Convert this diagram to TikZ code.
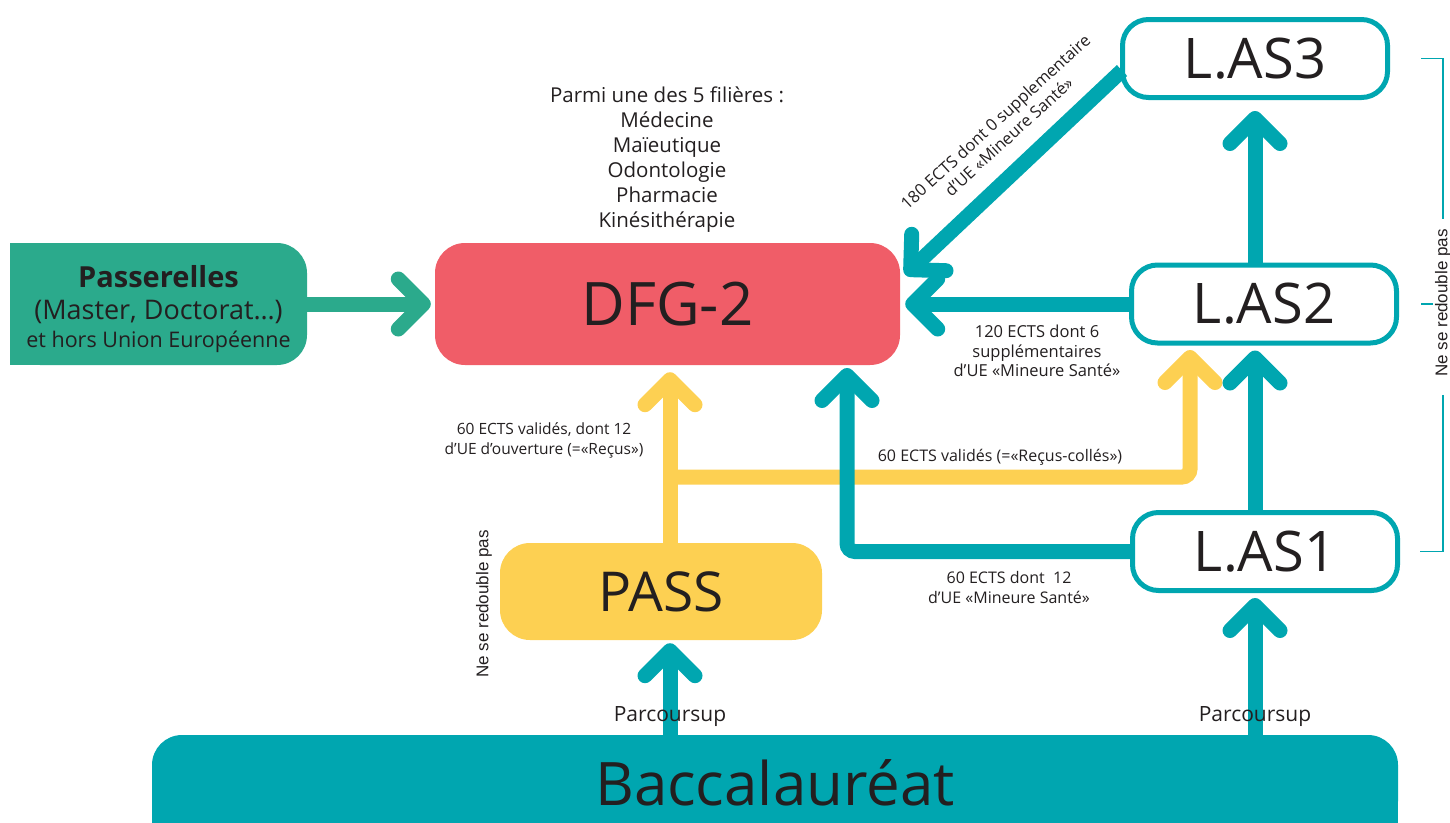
\documentclass[tikz,border=0pt]{standalone}
\usepackage{fontspec}
\setmainfont{Open Sans}
\newfontfamily\helv{Liberation Sans}
\usetikzlibrary{arrows.meta,positioning,calc}
\definecolor{bleuvert}{HTML}{00A6B0}
\definecolor{vertpont}{HTML}{2BAA8C}
\definecolor{rougedfg}{HTML}{F05D68}
\definecolor{jaune}{HTML}{FDD052}
\definecolor{encre}{HTML}{231F20}
\tikzset{
  boite/.style={rounded corners=30pt, inner sep=0pt, align=center, text=encre},
  licence/.style={boite, draw=bleuvert, line width=5pt, fill=white, rounded corners=26pt,
    minimum width=265pt, minimum height=78pt, font=\fontsize{56}{56}\selectfont},
  fleche/.style={line width=15pt, -{Straight Barb[round,length=25pt,width=50pt]}},
  etiq/.style={font=\fontsize{16}{20}\selectfont, align=center, text=encre, inner sep=0pt},
  redouble/.style={font=\helv\fontsize{17}{17}\selectfont, rotate=90, text=encre, inner sep=0pt},
  crochet/.style={draw=bleuvert, line width=1.5pt},
}
\begin{document}
\begin{tikzpicture}[x=1pt,y=-1pt]
\useasboundingbox (0,0) rectangle (1450,822);

% boites
\node[boite, fill=rougedfg, minimum width=465pt, minimum height=122pt,
  font=\fontsize{60}{60}\selectfont] (dfg) at (667.5,304) {DFG-2};
\node[boite, fill=vertpont, minimum width=297pt, minimum height=122pt] (pont) at (158.5,304) {};
\fill[vertpont] (pont.north west) rectangle (pont.south);
\node[align=center, text=encre, inner sep=0pt, font=\fontsize{27}{32}\selectfont]
  (ponttxt) at ($(pont.center)+(0,5)$)
  {{\fontsize{29}{32}\selectfont\bfseries Passerelles}\\
   (Master, Doctorat…)\\[-4pt]
   {\fontsize{21.5}{28}\selectfont et hors Union Européenne}};
\node[boite, fill=jaune, minimum width=322pt, minimum height=97pt,
  font=\fontsize{55}{55}\selectfont] (pass) at (661,591.5) {PASS};
\node[boite, fill=bleuvert, minimum width=1246pt, minimum height=96pt] (bac) at (775,783) {};
\fill[bleuvert] (bac.west) rectangle (bac.south east);
\node[text=encre, font=\fontsize{60}{60}\selectfont] (bactxt) at (bac.center) {Baccalauréat};
\node[licence] (las3) at (1255,58.5) {L.AS3};
\node[licence] (las2) at (1264,304) {L.AS2};
\node[licence] (las1) at (1265,551.5) {L.AS1};

\node[align=center, text=encre, font=\fontsize{20.5}{25}\selectfont] (filieres) at (667,160)
  {Parmi une des 5 filières :\\Médecine\\Maïeutique\\Odontologie\\Pharmacie\\Kinésithérapie};

% fleches
\coordinate (xpass) at (670,0);
\coordinate (xlas) at (1255,0);
\coordinate (embranchement) at (670,477);
\draw[fleche, vertpont] (pont.east) -- ([xshift=-4pt]dfg.west);
\draw[fleche, jaune] (pass.north -| xpass) -- ([yshift=-7pt]dfg.south -| xpass);
\draw[fleche, jaune, rounded corners=8pt] (embranchement) -| (1190,350);
\draw[fleche, bleuvert] (bac.north -| xpass) -- ([yshift=-3pt]pass.south -| xpass);
\draw[fleche, bleuvert] (bac.north -| xlas) -- ([yshift=-5pt]las1.south -| xlas);
\draw[fleche, bleuvert] (las1.north -| xlas) -- ([yshift=-5pt]las2.south -| xlas);
\draw[fleche, bleuvert] (las2.north -| xlas) -- ([yshift=-11pt]las3.south -| xlas);
\draw[fleche, bleuvert] (las2.west) -- ([xshift=5pt]dfg.east);
\draw[fleche, bleuvert] ([shift={(2,12)}]las3.west) -- ([shift={(5,32)}]dfg.north east);
\draw[fleche, bleuvert, rounded corners=8pt] (las1.west) -| (847,368);

% etiquettes
\node[etiq, font=\fontsize{15.5}{20}\selectfont] (e1) at (544,440) {60 ECTS validés, dont 12\\d’UE d’ouverture (=«Reçus»)};
\node[etiq] (e2) at (1000,457) {60 ECTS validés (=«Reçus-collés»)};
\node[etiq] (e3) at (1009,587) {60 ECTS dont~~12\\d’UE «Mineure Santé»};
\node[etiq, font=\fontsize{16.5}{19.5}\selectfont] (e4) at (1037,351)
  {120 ECTS dont 6\\supplémentaires\\d’UE «Mineure Santé»};
\node[etiq, rotate=42.5, font=\fontsize{16.5}{20}\selectfont] (e5) at (1002,129)
  {180 ECTS dont 0 supplementaire\\d’UE «Mineure Santé»};
\node[text=encre, font=\fontsize{21}{21}\selectfont, inner sep=0pt] (ps1) at (670,717) {Parcoursup};
\node[text=encre, font=\fontsize{21}{21}\selectfont, inner sep=0pt] (ps2) at (1255,717) {Parcoursup};

% ne se redouble pas
\node[redouble] (nsr1) at (484,604) {Ne se redouble pas};
\node[redouble] (nsr2) at (1443,303) {Ne se redouble pas};
\draw[crochet] ([xshift=31pt]las3.east) -| ([yshift=10pt]nsr2.east);
\draw[crochet] ([yshift=-18pt]nsr2.west) |- ([xshift=20pt]las1.east);
\draw[crochet] ([xshift=22pt]las2.east) -- ([xshift=34pt]las2.east);
\end{tikzpicture}
\end{document}
